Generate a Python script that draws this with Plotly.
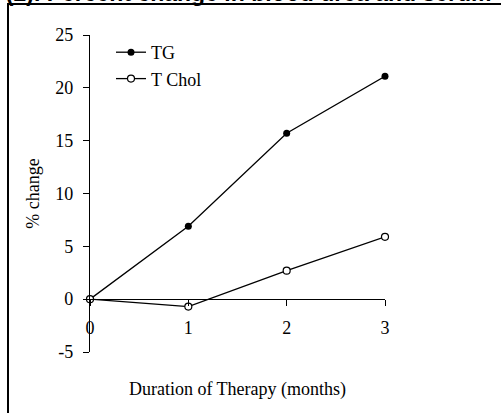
import plotly.graph_objects as go

months = [0, 1, 2, 3]
tg_change = [0, 6.9, 15.7, 21.1]
tchol_change = [0, -0.7, 2.7, 5.9]
x_ticks = [0, 1, 2, 3]
y_ticks = [-5, 0, 5, 10, 15, 20, 25]
caption = ". (2). Percent change in blood urea and serum"

W, H = 501, 413
L, R, T, B = 90, 116, 35, 61
pw, ph = W - L - R, H - T - B

def px_x(p):
    return (p - L) / pw

def px_y(p):
    return 1 - (p - T) / ph

serif = "Liberation Serif"
fs = 18

fig = go.Figure()
fig.add_trace(go.Scatter(
    x=months, y=tg_change, name="TG", mode="lines+markers",
    line=dict(color="black", width=1.3),
    marker=dict(symbol="circle", size=7, color="black"),
    cliponaxis=False, legendgroup="a",
))
fig.add_trace(go.Scatter(
    x=months, y=tchol_change, name="T Chol", mode="lines+markers",
    line=dict(color="black", width=1.3),
    marker=dict(symbol="circle", size=7, color="white", line=dict(color="black", width=1.2)),
    cliponaxis=False, legendgroup="b",
))

fig.update_layout(
    width=W, height=H,
    margin=dict(l=L, r=R, t=T, b=B, autoexpand=False),
    paper_bgcolor="white", plot_bgcolor="white",
    font=dict(family=serif, size=fs, color="black"),
    showlegend=True,
    legend=dict(
        x=px_x(111), y=px_y(34), xanchor="left", yanchor="top",
        bgcolor="rgba(0,0,0,0)", font=dict(family=serif, size=fs),
        traceorder="grouped", tracegroupgap=0,
    ),
    xaxis=dict(
        range=[0, 3], tickvals=x_ticks, ticktext=[str(v) for v in x_ticks],
        showgrid=False, zeroline=False, showline=True, linecolor="black", linewidth=1.2,
        ticks="outside", ticklen=6, tickwidth=1.2, tickcolor="black",
        anchor="free", position=5 / 30, ticklabelstandoff=6,
        title=dict(text="Duration of Therapy (months)", standoff=45, font=dict(family=serif, size=fs)),
    ),
    yaxis=dict(
        range=[-5, 25], tickvals=y_ticks, ticktext=[str(v) for v in y_ticks],
        showgrid=False, zeroline=False, showline=True, linecolor="black", linewidth=1.2,
        ticks="outside", ticklen=6, tickwidth=1.2, tickcolor="black",
        ticklabelstandoff=6,
        title=dict(text="% change", standoff=10, font=dict(family=serif, size=fs)),
    ),
    shapes=[
        dict(type="line", xref="paper", yref="paper", x0=px_x(7), x1=px_x(501), y0=px_y(4), y1=px_y(4),
             line=dict(color="black", width=2)),
        dict(type="line", xref="paper", yref="paper", x0=px_x(8), x1=px_x(8), y0=px_y(4), y1=px_y(413),
             line=dict(color="black", width=2)),
    ],
    annotations=[
        dict(text="<b>" + caption + "</b>", xref="paper", yref="paper",
             x=px_x(-9), y=px_y(8), xanchor="left", yanchor="bottom", showarrow=False,
             font=dict(family="Liberation Sans", size=23, color="black")),
    ],
)

fig.write_html(
    "out.html",
    config={"displayModeBar": False},
    post_script="document.body.style.margin='0px';document.body.style.padding='0px';",
)
